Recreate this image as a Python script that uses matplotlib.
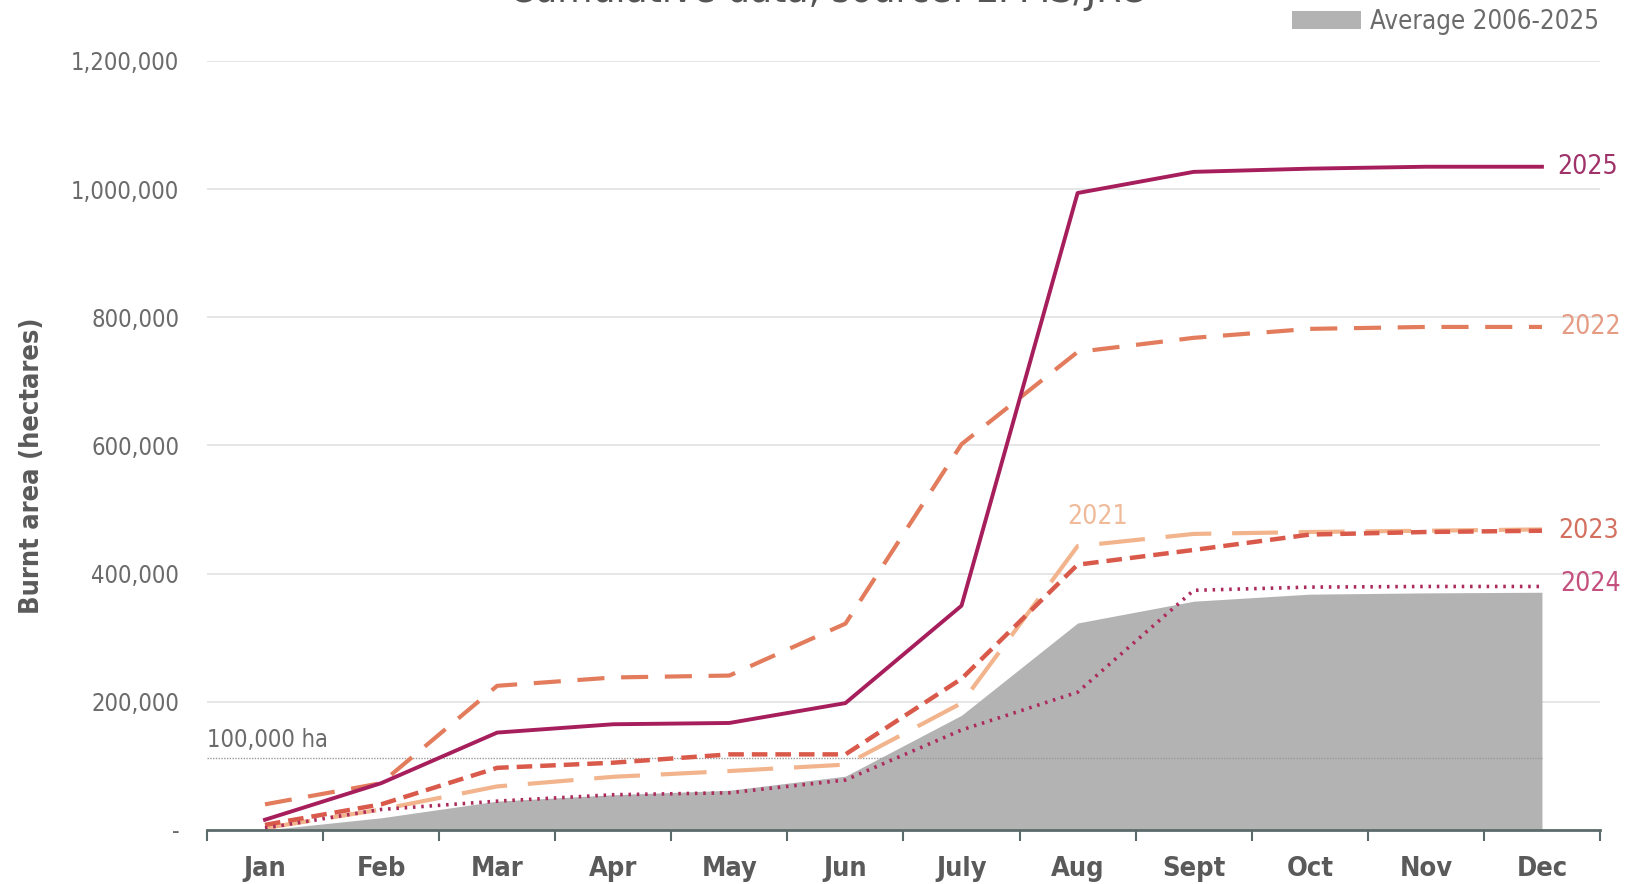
import matplotlib
matplotlib.use("Agg")
import matplotlib.pyplot as plt
from matplotlib.patches import Patch
from matplotlib import font_manager as fm
import numpy as np

months = ["Jan", "Feb", "Mar", "Apr", "May", "Jun", "July", "Aug", "Sept", "Oct", "Nov", "Dec"]
avg_2006_2025 = [0, 19000, 45000, 55000, 62000, 84000, 179000, 323000, 357000, 368000, 370000, 371000]
y2021 = [3000, 32000, 68000, 83000, 92000, 102000, 198000, 443000, 462000, 465000, 467000, 469000]
y2022 = [40000, 73000, 225000, 238000, 241000, 322000, 602000, 746000, 768000, 782000, 785000, 785000]
y2023 = [8000, 40000, 97000, 105000, 118000, 118000, 236000, 414000, 437000, 461000, 465000, 467000]
y2024 = [3000, 32000, 45000, 55000, 58000, 78000, 156000, 215000, 374000, 379000, 380000, 380000]
y2025 = [16000, 73000, 152000, 165000, 167000, 198000, 350000, 994000, 1027000, 1032000, 1035000, 1035000]
yticks = [0, 200000, 400000, 600000, 800000, 1000000, 1200000]
ytick_labels = ["-", "200,000", "400,000", "600,000", "800,000", "1,000,000", "1,200,000"]
threshold = 113000
threshold_label = "100,000 ha"


def find_font(keys, bold):
    for f in fm.fontManager.ttflist:
        fn = f.fname.lower().replace("-", "").replace("_", "")
        for k in keys:
            if k in fn:
                isbold = "bold" in fn
                if isbold == bold and "oblique" not in fn and "italic" not in fn:
                    return f.fname
    return None


cond_keys = ["liberationsansnarrow", "dejavusanscondensed"]
reg_file = find_font(cond_keys, False)
bold_file = find_font(cond_keys, True)


def cprop(size, bold=False):
    fname = bold_file if bold else reg_file
    if fname:
        return fm.FontProperties(fname=fname, size=size)
    return fm.FontProperties(family="Roboto", size=size, weight="bold" if bold else "normal")


GRAY_TXT = "#6b6b6b"

fig = plt.figure(figsize=(16.27, 8.84), dpi=100)
ax = fig.add_axes([0.1272, 0.0611, 0.8562, 0.8699])
x = np.arange(len(months))

ax.fill_between(x, 0, avg_2006_2025, color="#b3b3b3", linewidth=0, zorder=1)
ax.plot([x[0] - 0.5, x[-1]], [threshold, threshold], color="#9a9a9a", lw=1.0,
        linestyle=(0, (1, 1)), zorder=2)
ax.text(x[0] - 0.5, threshold + 9000, threshold_label, color=GRAY_TXT,
        fontproperties=cprop(17), ha="left", va="bottom", zorder=3)

ax.plot(x, y2021, color="#f2b48c", lw=3.0, linestyle=(0, (11, 5)), zorder=4)
ax.plot(x, y2022, color="#e27c5c", lw=3.0, linestyle=(0, (6.5, 4)), zorder=4)
ax.plot(x, y2023, color="#d9594a", lw=3.2, linestyle=(0, (3.5, 1.8)), zorder=5)
ax.plot(x, y2024, color="#ad2a5c", lw=2.6, linestyle=(0, (0.7, 1.6)), zorder=5)
ax.plot(x, y2025, color="#a61e5b", lw=2.8, linestyle="-", zorder=6)

lab_kw = dict(fontproperties=cprop(19), va="center", ha="left")
ax.text(x[-1] + 0.13, y2025[-1], "2025", color="#a0326a", **lab_kw)
ax.text(x[-1] + 0.16, y2022[-1], "2022", color="#e69b84", **lab_kw)
ax.text(x[-1] + 0.14, y2023[-1], "2023", color="#d4705f", **lab_kw)
ax.text(x[-1] + 0.16, y2024[-1] + 4000, "2024", color="#c4507e", **lab_kw)
ax.text(x[7] + 0.17, y2021[7] + 45000, "2021", color="#efbb9a", fontproperties=cprop(19),
        va="center", ha="center")

ax.set_xlim(-0.5, len(months) - 0.5)
ax.set_ylim(0, 1200000)
ax.set_yticks(yticks)
ax.set_yticklabels(ytick_labels, color=GRAY_TXT)
for t in ax.get_yticklabels():
    t.set_fontproperties(cprop(17))
ax.tick_params(axis="y", length=0, pad=20)
ax.yaxis.grid(True, color="#e2e2e2", lw=1.2)
ax.set_axisbelow(True)

ax.set_xticks(x)
ax.set_xticklabels(months, color="#5a5a5a")
for t in ax.get_xticklabels():
    t.set_fontproperties(cprop(19.5, bold=True))
ax.set_xticks(np.arange(-0.5, len(months)), minor=True)
ax.tick_params(axis="x", which="major", length=0, pad=19)
ax.tick_params(axis="x", which="minor", length=8, width=1.5, color="#5b6b6b", direction="out")

for s in ["top", "right", "left"]:
    ax.spines[s].set_visible(False)
ax.spines["bottom"].set_color("#5b6b6b")
ax.spines["bottom"].set_linewidth(2.0)
ax.spines["bottom"].set_zorder(7)

ax.set_ylabel("Burnt area (hectares)", color="#5a5a5a", fontproperties=cprop(19.5, bold=True))
ax.yaxis.set_label_coords(-0.116, 0.474)

fig.text(0.508, 1 - 2 / 884, "Cumulative data, source: EFFIS/JRC", fontproperties=cprop(29),
         color="#555555", ha="center", va="baseline")

leg = fig.legend(handles=[Patch(facecolor="#b3b3b3", edgecolor="none")],
                 labels=["Average 2006-2025"], loc="upper right",
                 bbox_to_anchor=(0.997, 1.016), frameon=False,
                 handlelength=2.7, handleheight=0.65, handletextpad=0.35,
                 prop=cprop(18.5))
for t in leg.get_texts():
    t.set_color(GRAY_TXT)

fig.savefig("out.png", dpi=100, facecolor="white")
